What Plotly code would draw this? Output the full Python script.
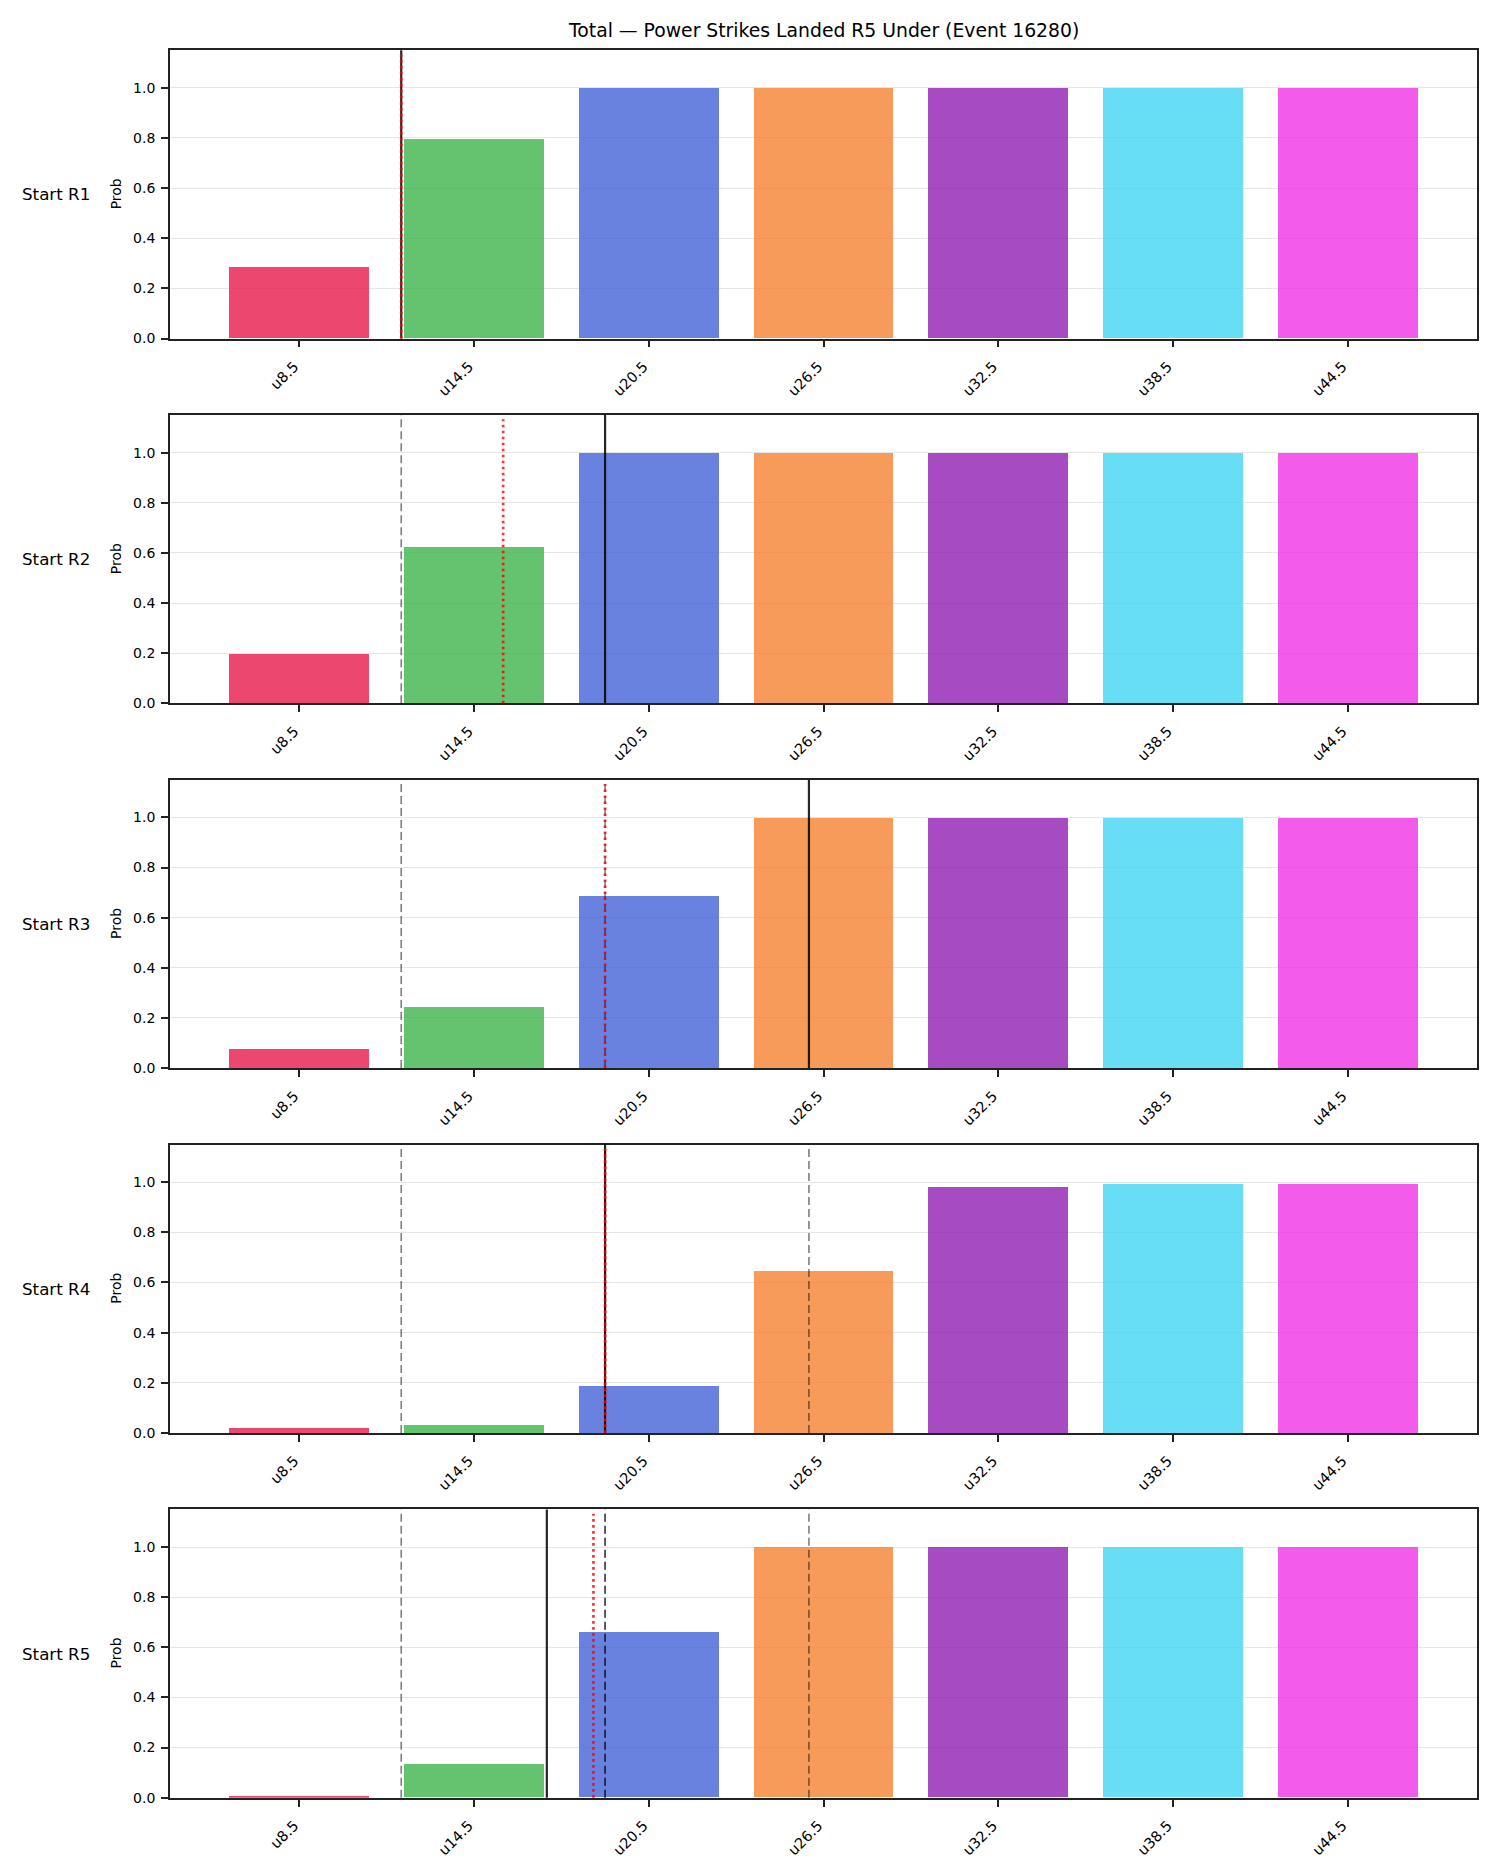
import plotly.graph_objects as go

# ---------------- data ----------------
thresholds = [8.5, 14.5, 20.5, 26.5, 32.5, 38.5, 44.5]
tick_labels = ["u8.5", "u14.5", "u20.5", "u26.5", "u32.5", "u38.5", "u44.5"]
row_labels = ["Start R1", "Start R2", "Start R3", "Start R4", "Start R5"]

probs_r1 = [0.283, 0.797, 0.997, 0.998, 0.998, 0.998, 0.998]
probs_r2 = [0.198, 0.624, 0.997, 0.998, 0.998, 0.998, 0.998]
probs_r3 = [0.077, 0.245, 0.689, 0.997, 0.998, 0.998, 0.998]
probs_r4 = [0.021, 0.033, 0.190, 0.648, 0.981, 0.995, 0.995]
probs_r5 = [0.005, 0.134, 0.660, 0.997, 0.998, 0.998, 0.998]
probs = [probs_r1, probs_r2, probs_r3, probs_r4, probs_r5]

# solid black line per panel (earlier panels' values shown dashed)
actual_line = [12.0, 19.0, 26.0, 19.0, 17.0]
# red dotted line per panel
model_line = [12.0, 15.5, 19.0, 19.0, 18.6]

bar_colors = ["#e6194b", "#3cb44b", "#4363d8", "#f58231", "#911eb4", "#42d4f4", "#f032e6"]
title = "Total \u2014 Power Strikes Landed R5 Under (Event 16280)"

# ---------------- layout ----------------
W, H = 1500, 1875
FONT = "DejaVu Sans"
left, right = 170 / W, 1477 / W
step = thresholds[1] - thresholds[0]
xrange_ = [thresholds[0] - 0.74 * step, thresholds[-1] + 0.74 * step]

fig = go.Figure()
layout = dict(
    width=W, height=H,
    margin=dict(l=0, r=0, t=0, b=0, pad=0, autoexpand=False),
    paper_bgcolor="white", plot_bgcolor="white",
    font=dict(family=FONT, size=14, color="black"),
    showlegend=False,
    bargap=0,
)
annotations = []
shapes = []

for k in range(5):
    top = 50.2 + 364.8 * k
    bot = top + 288.3
    dom = [1 - bot / H, 1 - top / H]
    xa = "x" if k == 0 else f"x{k+1}"
    ya = "y" if k == 0 else f"y{k+1}"
    xkey = "xaxis" if k == 0 else f"xaxis{k+1}"
    ykey = "yaxis" if k == 0 else f"yaxis{k+1}"

    fig.add_trace(go.Bar(
        x=thresholds, y=probs[k], width=0.8 * step,
        marker=dict(color=bar_colors, opacity=0.8, line=dict(width=0)),
        xaxis=xa, yaxis=ya, showlegend=False, hoverinfo="x+y",
    ))

    layout[xkey] = dict(
        domain=[left, right], anchor=ya, range=xrange_, automargin=False,
        tickmode="array", tickvals=thresholds, ticktext=tick_labels,
        tickangle=-45, tickfont=dict(family=FONT, size=14.5, color="black"),
        ticklabelstandoff=5, ticklabelshift=-5,
        showline=True, mirror=True, linecolor="#222222", linewidth=1.7,
        ticks="outside", ticklen=7, tickwidth=1.5, tickcolor="#222222",
        showgrid=False, zeroline=False,
    )
    layout[ykey] = dict(
        domain=dom, anchor=xa, range=[0, 1.15], automargin=False,
        tickmode="array", tickvals=[0, 0.2, 0.4, 0.6, 0.8, 1.0],
        ticktext=["0.0", "0.2", "0.4", "0.6", "0.8", "1.0"],
        tickfont=dict(family=FONT, size=14, color="black"),
        ticklabelstandoff=3,
        showline=True, mirror=True, linecolor="#222222", linewidth=1.7,
        ticks="outside", ticklen=7, tickwidth=1.5, tickcolor="#222222",
        showgrid=True, gridcolor="#e6e6e6", gridwidth=1.1, zeroline=False,
    )

    ymid = (dom[0] + dom[1]) / 2
    annotations.append(dict(
        text=row_labels[k], x=56 / W, y=ymid, xref="paper", yref="paper",
        xanchor="center", yanchor="middle", showarrow=False,
        font=dict(family=FONT, size=16.7, color="black"),
    ))
    annotations.append(dict(
        text="Prob", x=116 / W, y=ymid, xref="paper", yref="paper",
        xanchor="center", yanchor="middle", showarrow=False, textangle=-90,
        font=dict(family=FONT, size=14, color="black"),
    ))

    # dashed lines: previous panels' solid values
    for v in actual_line[:k]:
        shapes.append(dict(
            type="line", xref=xa, yref=f"{ya} domain", x0=v, x1=v, y0=0, y1=1,
            line=dict(color="rgba(0,0,0,0.5)", width=1.6, dash="8px,4px"),
            layer="above",
        ))
    # solid black
    shapes.append(dict(
        type="line", xref=xa, yref=f"{ya} domain",
        x0=actual_line[k], x1=actual_line[k], y0=0, y1=1,
        line=dict(color="rgba(0,0,0,0.85)", width=2.2), layer="above",
    ))
    # red dotted
    shapes.append(dict(
        type="line", xref=xa, yref=f"{ya} domain",
        x0=model_line[k], x1=model_line[k], y0=0, y1=0.985,
        line=dict(color="rgba(255,0,0,0.8)", width=2.7, dash="2.6px,3.4px"),
        layer="above",
    ))

annotations.append(dict(
    text=title, x=(170 + 1477) / 2 / W, y=1 - 31 / H, xref="paper", yref="paper",
    xanchor="center", yanchor="middle", showarrow=False,
    font=dict(family=FONT, size=18.8, color="black"),
))

layout["annotations"] = annotations
layout["shapes"] = shapes
fig.update_layout(**layout)

fig.write_html("out.html")
